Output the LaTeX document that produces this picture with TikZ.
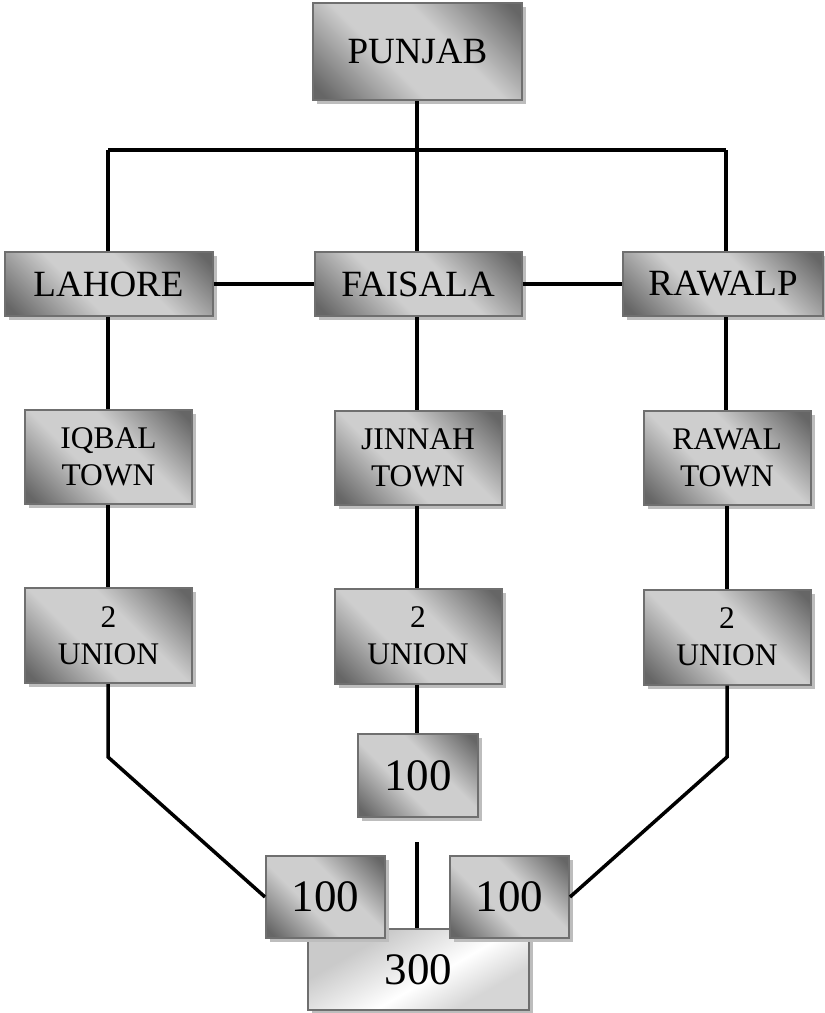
\documentclass[tikz,border=0pt]{standalone}
\usepackage{fontspec}
\setmainfont{Liberation Serif}
\usetikzlibrary{shadows}
\definecolor{boxborder}{HTML}{6F6F6F}
\definecolor{shdark}{HTML}{666666}
\definecolor{shlight}{HTML}{CECECE}
\definecolor{shadowgray}{HTML}{BDBDBD}
\definecolor{lt1}{HTML}{CACACA}
\definecolor{lt2}{HTML}{D6D6D6}
\pgfdeclareverticalshading{boxshade}{100bp}{color(0bp)=(shdark); color(18bp)=(shdark); color(41bp)=(shlight); color(59bp)=(shlight); color(82bp)=(shdark); color(100bp)=(shdark)}
\pgfdeclareverticalshading{lightshade}{100bp}{color(0bp)=(lt2); color(30bp)=(lt2); color(45bp)=(white); color(68bp)=(lt1); color(100bp)=(lt1)}
\newcommand\myfbig{\fontsize{37}{42}\selectfont}
\newcommand\myfmid{\fontsize{31.5}{37}\selectfont}
\newcommand\myfnum{\fontsize{45}{50}\selectfont}
\tikzset{
  box/.style={draw=boxborder, line width=2pt, shading=boxshade, shading angle=-45,
    drop shadow={shadow xshift=4pt, shadow yshift=-4pt, fill=shadowgray, opacity=1},
    inner sep=0pt, align=center},
  lightbox/.style={box, shading=lightshade, shading angle=30},
  conn/.style={line width=3.5pt, black},
}
\begin{document}
\begin{tikzpicture}[x=1pt,y=-1pt]
\useasboundingbox (0,0) rectangle (825,1013);
% nodes
\node[box, minimum width=209pt, minimum height=97pt, font=\myfbig] (punjab) at (417.5,51.5) {PUNJAB};
\node[box, minimum width=208pt, minimum height=64pt, font=\myfbig] (lahore) at (108.5,284) {LAHORE};
\node[box, minimum width=207pt, minimum height=64pt, font=\myfbig] (faisala) at (418,284) {FAISALA};
\node[box, minimum width=200pt, minimum height=64pt, font=\myfbig] (rawalp) at (723,284) {RAWALP};
\node[box, minimum width=167pt, minimum height=94pt, font=\myfmid] (iqbal) at (108.5,457) {IQBAL\\TOWN};
\node[box, minimum width=167pt, minimum height=94pt, font=\myfmid] (jinnah) at (418,458) {JINNAH\\TOWN};
\node[box, minimum width=167pt, minimum height=94pt, font=\myfmid] (rawal) at (727,458) {RAWAL\\TOWN};
\node[box, minimum width=167pt, minimum height=95pt, font=\myfmid] (u1) at (108.5,635.5) {2\\UNION};
\node[box, minimum width=167pt, minimum height=95pt, font=\myfmid] (u2) at (418,636) {2\\UNION};
\node[box, minimum width=167pt, minimum height=95pt, font=\myfmid] (u3) at (727,637) {2\\UNION};
\node[box, minimum width=120pt, minimum height=83pt, font=\myfnum] (m100) at (418,775.5) {100};
\node[lightbox, minimum width=221pt, minimum height=81pt, font=\myfnum] (t300) at (418.5,969.5) {300};
\node[box, minimum width=119pt, minimum height=82pt, font=\myfnum] (l100) at (325.5,897) {100};
\node[box, minimum width=119pt, minimum height=82pt, font=\myfnum] (r100) at (509.5,897) {100};
% coordinates
\coordinate (hl) at (108,150);
\coordinate (hm) at (417,150);
\coordinate (hr) at (726,150);
\coordinate (bl) at (108,757);
\coordinate (br) at (727,757);
\coordinate (gap) at (417,842);
% connectors
\draw[conn] (punjab.south -| hm) -- (hm);
\draw[conn] (hl) -- (hr);
\draw[conn] (hl) -- (hl |- lahore.north);
\draw[conn] (hm) -- (hm |- faisala.north);
\draw[conn] (hr) -- (hr |- rawalp.north);
\draw[conn] (lahore.east) -- (faisala.west);
\draw[conn] (faisala.east) -- (rawalp.west);
\draw[conn] (lahore.south -| hl) -- (hl |- iqbal.north);
\draw[conn] (iqbal.south -| hl) -- (hl |- u1.north);
\draw[conn] (faisala.south -| hm) -- (hm |- jinnah.north);
\draw[conn] (jinnah.south -| hm) -- (hm |- u2.north);
\draw[conn] (u2.south -| hm) -- (hm |- m100.north);
\draw[conn] (rawalp.south -| hr) -- (hr |- rawal.north);
\draw[conn] (rawal.south -| br) -- (br |- u3.north);
\draw[conn] (u1.south -| bl) -- (bl) -- (l100.west);
\draw[conn] (u3.south -| br) -- (br) -- (r100.east);
\draw[conn] (gap) -- (gap |- t300.north);
\end{tikzpicture}
\end{document}
